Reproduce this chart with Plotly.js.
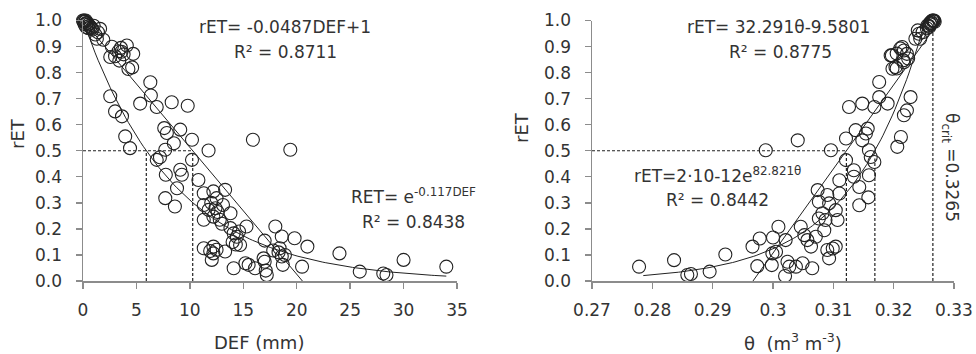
<!DOCTYPE html>
<html>
<head>
<meta charset="utf-8">
<script src="https://cdn.plot.ly/plotly-3.0.1.min.js"></script>
<style>html,body{margin:0;padding:0;background:#fff}#chart{width:976px;height:354px}</style>
</head>
<body>
<div id="chart"></div>
<script>
// ---- Left panel data: DEF (mm) vs rET ----
const defVals = [0,0.1,0.2,0.3,0.15,0.4,0.5,0.6,0.3,0.7,0.8,0.5,0.05,0.25,0.9,
  1.0,1.6,1.15,1.9,1.3,1.4,
  2.7,3.55,4.1,3.33,3.0,2.55,3.4,4.7,4.6,4.25,3.6,3.8,
  2.55,3.0,3.65,3.95,4.4,
  5.35,6.3,6.35,6.9,8.3,9.8,
  7.6,7.85,9.1,10.2,8.5,7.7,11.75,10.2,6.9,7.2,
  7.75,9.1,9.25,7.7,8.6,8.8,
  10.8,11.3,12.2,13.3,12.5,11.3,11.75,12.4,13.1,12.2,11.3,12.8,13.8,12.0,12.6,13.0,
  13.8,14.1,14.4,14.0,14.6,14.3,15.3,14.7,
  11.3,12.2,12.2,12.05,13.3,11.9,12.5,
  14.1,15.2,15.5,16.1,16.9,17.0,17.2,17.1,
  17.0,18.0,17.8,18.4,18.6,18.6,18.7,18.3,18.9,19.8,21.0,20.5,
  15.9,19.4,
  24.0,25.9,28.1,28.4,30.0,34.0];
const retLeft = [1.0,1.0,0.995,0.99,0.985,0.99,0.985,0.98,0.975,0.975,0.97,0.97,0.995,1.0,0.965,
  0.98,0.968,0.946,0.926,0.93,0.955,
  0.899,0.895,0.904,0.882,0.863,0.86,0.846,0.872,0.82,0.814,0.88,0.87,
  0.709,0.651,0.632,0.555,0.51,
  0.681,0.763,0.712,0.668,0.686,0.673,
  0.587,0.568,0.581,0.542,0.529,0.504,0.501,0.465,0.465,0.475,
  0.408,0.427,0.408,0.318,0.286,0.356,
  0.388,0.337,0.344,0.35,0.318,0.292,0.273,0.279,0.292,0.247,0.235,0.235,0.26,0.30,0.265,0.22,
  0.203,0.183,0.17,0.15,0.19,0.14,0.209,0.138,
  0.126,0.132,0.106,0.081,0.113,0.115,0.12,
  0.049,0.068,0.062,0.049,0.087,0.074,0.023,0.04,
  0.155,0.209,0.117,0.126,0.171,0.094,0.062,0.11,0.1,0.164,0.132,0.055,
  0.542,0.504,
  0.106,0.036,0.029,0.023,0.081,0.055];

// ---- Right panel data: theta (m3 m-3) vs rET ----
const thetaVals = [0.2778,0.2836,0.2858,0.2864,0.2895,0.2921,0.2966,0.2978,0.2974,0.2988,
  0.3000,0.2998,0.2999,0.3005,0.3009,0.3021,0.3024,0.3027,0.3020,0.3041,
  0.3046,0.3038,0.3049,0.3065,0.3052,0.3057,0.3063,0.3071,0.3074,0.3076,
  0.3082,0.3076,0.3087,0.3085,0.3090,0.3093,0.3090,0.3093,0.3099,0.3104,
  0.3096,0.3104,0.3107,0.3110,0.3110,0.3121,0.3121,0.3126,0.3134,0.3134,
  0.3137,0.3143,0.3143,0.3148,0.3148,0.3154,0.3157,0.3159,0.3159,0.3158,
  0.3162,0.3168,0.3168,0.3176,0.3176,0.3190,0.3195,0.3198,0.3203,0.3206,
  0.3212,0.3214,0.3217,0.3222,0.3217,0.3217,0.3222,0.3228,0.3236,0.3242,
  0.3248,0.3256,0.3240,0.3244,0.3211,0.3205,0.3197,0.3216,0.3205,0.3224,
  0.3262,0.3265,0.3266,0.3263,0.3267,0.3261,0.3259,0.3255,0.3264,0.3268,0.3260,0.3258];
const retRight = [0.055,0.08,0.023,0.027,0.036,0.102,0.132,0.163,0.057,0.502,
  0.167,0.061,0.106,0.112,0.208,0.157,0.074,0.055,0.019,0.540,
  0.208,0.055,0.068,0.049,0.176,0.157,0.132,0.17,0.349,0.304,
  0.26,0.24,0.234,0.195,0.33,0.298,0.119,0.087,0.125,0.132,
  0.502,0.272,0.234,0.387,0.336,0.547,0.464,0.668,0.425,0.400,
  0.579,0.361,0.291,0.681,0.540,0.566,0.585,0.502,0.406,0.321,
  0.476,0.457,0.668,0.764,0.706,0.681,0.866,0.815,0.821,0.515,
  0.553,0.898,0.885,0.872,0.84,0.636,0.655,0.706,0.93,0.949,
  0.955,0.981,0.962,0.93,0.893,0.873,0.866,0.847,0.816,0.854,
  0.995,1.0,0.998,0.99,1.0,0.985,0.975,0.97,1.0,0.995,0.99,0.98];

// ---- Fitted equations shown on the chart ----
const linL = {a: -0.0487, b: 1};      // rET = -0.0487 DEF + 1
const expL = {k: -0.117};             // rET = e^(-0.117 DEF)
const linR = {a: 32.291, b: -9.5801}; // rET = 32.291 θ - 9.5801
const expR = {c: 2e-12, k: 82.821};   // rET = 2·10^-12 e^(82.821 θ)
const thetaCrit = 0.3265;
const defRangeExp = [0, 34];
const thetaRangeExp = [0.2785, 0.32526];

function curve(f, x0, x1, n) {
  const xs = [], ys = [];
  for (let i = 0; i <= n; i++) { const x = x0 + (x1 - x0) * i / n; xs.push(x); ys.push(f(x)); }
  return {x: xs, y: ys};
}

const ink = '#222';
const axisCol = '#8c8c8c';
const fontFam = 'DejaVu Sans, sans-serif';

const traces = [];
const mk = {symbol: 'circle-open', size: 13, color: ink, line: {width: 1.1, color: ink}};
traces.push({x: defVals, y: retLeft, type: 'scatter', mode: 'markers', marker: mk, xaxis: 'x', yaxis: 'y', cliponaxis: false});
traces.push({x: thetaVals, y: retRight, type: 'scatter', mode: 'markers', marker: mk, xaxis: 'x2', yaxis: 'y2', cliponaxis: false});

// Trend lines
const defZero = -linL.b / linL.a;
const cl = curve(d => linL.a * d + linL.b, 0, defZero, 2);
const ce = curve(d => Math.exp(expL.k * d), defRangeExp[0], defRangeExp[1], 120);
const thZero = -linR.b / linR.a, thOne = (1 - linR.b) / linR.a;
const cr = curve(t => linR.a * t + linR.b, thZero, thOne, 2);
const cre = curve(t => expR.c * Math.exp(expR.k * t), thetaRangeExp[0], thetaRangeExp[1], 120);
const ln = {color: ink, width: 1};
traces.push({x: cl.x, y: cl.y, mode: 'lines', line: ln, xaxis: 'x', yaxis: 'y'});
traces.push({x: ce.x, y: ce.y, mode: 'lines', line: ln, xaxis: 'x', yaxis: 'y'});
traces.push({x: cr.x, y: cr.y, mode: 'lines', line: ln, xaxis: 'x2', yaxis: 'y2'});
traces.push({x: cre.x, y: cre.y, mode: 'lines', line: ln, xaxis: 'x2', yaxis: 'y2'});

// Dashed guide lines at rET = 0.5
const dl = {color: ink, width: 1.2, dash: '3px,2px'};
const defHalfLin = (0.5 - linL.b) / linL.a;
const defHalfExp = Math.log(0.5) / expL.k;
traces.push({x: [0, defHalfLin], y: [0.5, 0.5], mode: 'lines', line: dl, xaxis: 'x', yaxis: 'y'});
traces.push({x: [defHalfExp, defHalfExp], y: [0, 0.5], mode: 'lines', line: dl, xaxis: 'x', yaxis: 'y'});
traces.push({x: [defHalfLin, defHalfLin], y: [0, 0.5], mode: 'lines', line: dl, xaxis: 'x', yaxis: 'y'});
const thHalfLin = (0.5 - linR.b) / linR.a;
const thHalfExp = Math.log(0.5 / expR.c) / expR.k;
traces.push({x: [0.27, thHalfLin], y: [0.5, 0.5], mode: 'lines', line: dl, xaxis: 'x2', yaxis: 'y2'});
traces.push({x: [thHalfLin, thHalfLin], y: [0, 0.5], mode: 'lines', line: dl, xaxis: 'x2', yaxis: 'y2'});
traces.push({x: [thHalfExp, thHalfExp], y: [0, 0.47], mode: 'lines', line: dl, xaxis: 'x2', yaxis: 'y2'});
traces.push({x: [thetaCrit, thetaCrit], y: [0, 0.97], mode: 'lines', line: dl, xaxis: 'x2', yaxis: 'y2'});

const W = 976, H = 354;
const yDom = [1 - 281 / H, 1 - 20.5 / H];
const axBase = {
  showline: true, linecolor: axisCol, linewidth: 1.5, ticks: 'outside', ticklen: 6, tickwidth: 1.3,
  tickcolor: axisCol, showgrid: false, zeroline: false,
  tickfont: {family: fontFam, size: 17, color: '#333'}
};
const layout = {
  width: W, height: H, margin: {l: 0, r: 0, t: 0, b: 0},
  paper_bgcolor: '#fff', plot_bgcolor: '#fff', showlegend: false,
  font: {family: fontFam, color: '#333'},
  xaxis: Object.assign({}, axBase, {domain: [83 / W, 457 / W], range: [0, 35], dtick: 5, tick0: 0, anchor: 'y', ticklabelstandoff: 7}),
  yaxis: Object.assign({}, axBase, {domain: yDom, range: [0, 1], dtick: 0.1, tick0: 0, tickformat: '.1f', anchor: 'x', ticklabelstandoff: 10}),
  xaxis2: Object.assign({}, axBase, {domain: [592 / W, 954 / W], range: [0.27, 0.33], dtick: 0.01, tick0: 0.27, anchor: 'y2', ticklabelstandoff: 7}),
  yaxis2: Object.assign({}, axBase, {domain: yDom, range: [0, 1], dtick: 0.1, tick0: 0, tickformat: '.1f', anchor: 'x2', ticklabelstandoff: 10}),
  annotations: []
};
function ann(text, px, py, size, angle) {
  layout.annotations.push({text: text, xref: 'paper', yref: 'paper', x: px / W, y: 1 - py / H,
    xanchor: 'center', yanchor: 'middle', showarrow: false, textangle: angle || 0,
    font: {family: fontFam, size: size, color: '#333'}});
}
ann('rET= -0.0487DEF+1', 285, 27, 17);
ann('R² = 0.8711', 285, 52, 17);
ann('RET= e<sup>-0.117DEF</sup>', 413, 196, 17);
ann('R² = 0.8438', 413, 222, 17);
ann('rET= 32.291θ-9.5801', 778, 27, 17);
ann('R² = 0.8775', 780, 52, 17);
ann('rET=2·10-12e<sup>82.821θ</sup>', 717, 175, 17);
ann('R² = 0.8442', 717, 200, 17);
ann('θ<sub>crit</sub> =0.3265', 950, 167, 17, 90);
ann('rET', 18, 134, 18, -90);
ann('rET', 521, 128, 18, -90);
ann('DEF (mm)', 259, 342, 18);
ann('θ  (m<sup>3</sup> m<sup>-3</sup>)', 793, 342, 18);

Plotly.newPlot('chart', traces, layout, {staticPlot: true, displayModeBar: false});
</script>
</body>
</html>
